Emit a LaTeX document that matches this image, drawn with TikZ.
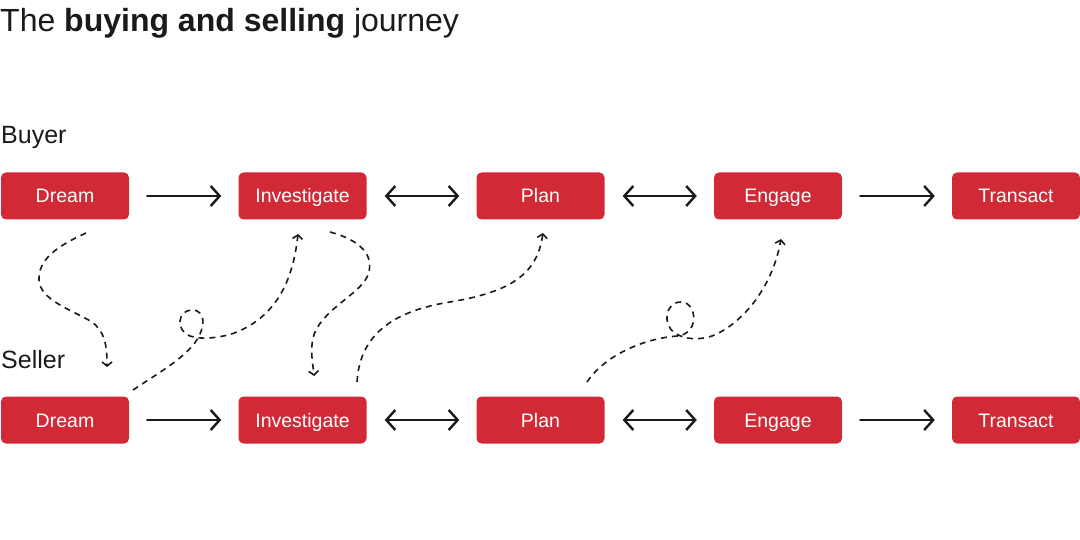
\documentclass[tikz,border=0pt]{standalone}
\usepackage{fontspec}
\setmainfont{Liberation Sans}
\usepackage{xcolor}
\usepackage{tikz}
\usetikzlibrary{arrows.meta}
\definecolor{stepred}{HTML}{D12A36}
\definecolor{inkgray}{HTML}{1A1A1A}

\begin{document}
\begin{tikzpicture}[
  x=1pt, y=-1pt,
  stage/.style={rectangle, rounded corners=5pt, fill=stepred, text=white, minimum width=128pt, minimum height=47pt, inner sep=0pt, text height=14pt, text depth=0pt, font=\fontsize{19.5}{22}\selectfont},
  flow/.style={draw=inkgray, line width=2.4pt, line cap=round, -{Straight Barb[length=9pt,width=20pt]}, shorten <=18pt, shorten >=17pt},
  twoway/.style={flow, {Straight Barb[length=9pt,width=20pt]}-{Straight Barb[length=9pt,width=20pt]}},
  hop/.style={draw=inkgray, line width=1.6pt, dash pattern=on 6pt off 5pt, -{Straight Barb[length=4pt,width=10pt]}},
  role/.style={anchor=base west, inner sep=0pt, font=\fontsize{25}{28}\selectfont, text=inkgray}
]
\useasboundingbox (0,0) rectangle (1080,540);

% title
\node[anchor=base west, inner sep=0pt, font=\fontsize{32}{36}\selectfont, text=inkgray] (title) at (0,32) {The \textbf{buying and selling} journey};

% Buyer row
\node[role] (buyer) at (1,144) {Buyer};
\node[stage] (bdream) at (65,196) {Dream};
\node[stage] (binv) at (302.5,196) {Investigate};
\node[stage] (bplan) at (540.5,196) {Plan};
\node[stage] (beng) at (778,196) {Engage};
\node[stage] (btrans) at (1016,196) {Transact};
\draw[flow] (bdream) -- (binv);
\draw[twoway] (binv) -- (bplan);
\draw[twoway] (bplan) -- (beng);
\draw[flow] (beng) -- (btrans);

% Seller row
\node[role] (seller) at (1,368) {Seller};
\node[stage] (sdream) at (65,420) {Dream};
\node[stage] (sinv) at (302.5,420) {Investigate};
\node[stage] (splan) at (540.5,420) {Plan};
\node[stage] (seng) at (778,420) {Engage};
\node[stage] (strans) at (1016,420) {Transact};
\draw[flow] (sdream) -- (sinv);
\draw[twoway] (sinv) -- (splan);
\draw[twoway] (splan) -- (seng);
\draw[flow] (seng) -- (strans);

% hand-offs between the two journeys
\coordinate (h1a) at (86,233);
\coordinate (h1b) at (107,367);
\coordinate (h2a) at (133,390);
\coordinate (h2b) at (298,234);
\coordinate (h3a) at (330,232);
\coordinate (h3b) at (314,376);
\coordinate (h4a) at (357,382);
\coordinate (h4b) at (543,233);
\coordinate (h5a) at (587,382);
\coordinate (h5b) at (781,239);

\draw[hop] (h1a) .. controls (60,245) and (38,258) .. (39,280)
  .. controls (40,300) and (72,310) .. (92,322)
  .. controls (105,332) and (107,345) .. (h1b);
\draw[hop] (h2a) .. controls (160,372) and (190,355) .. (199,336)
  .. controls (208,318) and (200,309) .. (191,310)
  .. controls (178,311) and (175,330) .. (190,336)
  .. controls (200,340) and (222,338) .. (237,332)
  .. controls (270,318) and (292,290) .. (h2b);
\draw[hop] (h3a) .. controls (360,240) and (375,255) .. (368,275)
  .. controls (360,295) and (320,310) .. (313,338)
  .. controls (310,352) and (313,364) .. (h3b);
\draw[hop] (h4a) .. controls (360,330) and (400,310) .. (450,302)
  .. controls (510,292) and (537,275) .. (h4b);
\draw[hop] (h5a) .. controls (605,355) and (645,338) .. (678,336)
  .. controls (700,333) and (697,302) .. (681,302)
  .. controls (665,302) and (662,325) .. (675,333)
  .. controls (685,340) and (700,340) .. (712,336)
  .. controls (740,325) and (772,290) .. (h5b);
\end{tikzpicture}
\end{document}
